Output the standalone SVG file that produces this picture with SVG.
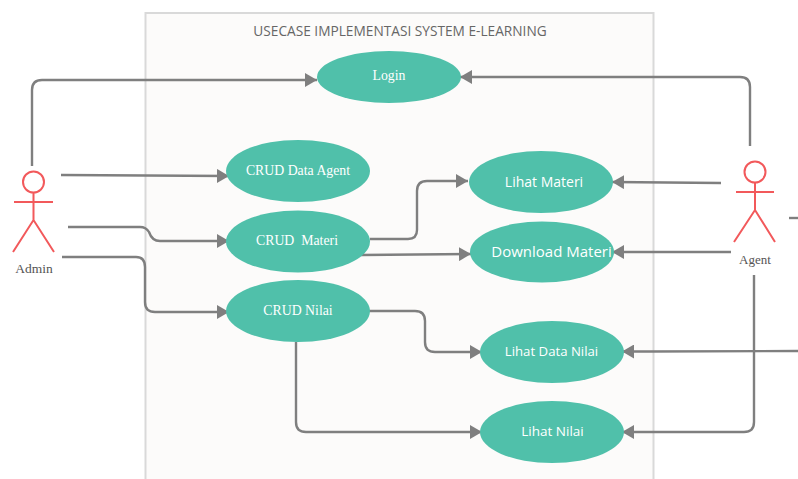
<svg xmlns="http://www.w3.org/2000/svg" width="798" height="479" viewBox="0 0 798 479">
<style>
.uc{fill:#50c0aa}
.a{fill:none;stroke:#f2595b;stroke-width:2}
.c{fill:none;stroke:#7f7f7f;stroke-width:2.400}
.s{font-family:"Liberation Serif",serif;font-size:13.800px;fill:#fff;text-anchor:middle}
.o{font-family:"Open Sans",sans-serif;font-size:14px;fill:#fff;text-anchor:middle}
.l{font-family:"Liberation Serif",serif;font-size:13.500px;fill:#555;text-anchor:middle}
</style>
<defs>
<marker id="arr" markerUnits="userSpaceOnUse" markerWidth="13" markerHeight="14" refX="12" refY="7" orient="auto"><path d="M0 0L12 7L0 14Z" fill="#7f7f7f"/></marker>
</defs>
<rect width="798" height="479" fill="#fff"/>
<g id="system">
<rect x="145.500" y="13" width="508" height="480" fill="#fcfbfa" stroke="#d9d9d9" stroke-width="2"/>
<text x="400" y="36" font-family="Open Sans, sans-serif" font-size="13.700" fill="#666" text-anchor="middle">USECASE IMPLEMENTASI SYSTEM E-LEARNING</text>
</g>
<g id="connectors" class="c">
<path marker-end="url(#arr)" d="M32 166V90Q32 80 42 80H317"/>
<path marker-end="url(#arr)" d="M61 175L229 176"/>
<path marker-end="url(#arr)" d="M68 227H140Q146 227 149 232Q152 241 160 241H229"/>
<path marker-end="url(#arr)" d="M62 257H136Q145 257 145 267V302Q145 312 155 312H229"/>
<path marker-end="url(#arr)" d="M370 239H408Q417 239 417 230V191Q417 181 427 181H468"/>
<path marker-end="url(#arr)" d="M361 255L471 254"/>
<path marker-end="url(#arr)" d="M368 311H415Q425 311 425 321V342Q425 352 435 352H482"/>
<path marker-end="url(#arr)" d="M296 342V422Q296 432 306 432H482"/>
<path marker-end="url(#arr)" d="M750 146V87Q750 77 740 77H460"/>
<path marker-end="url(#arr)" d="M721 183L612 182"/>
<path marker-end="url(#arr)" d="M731 252H612"/>
<path marker-end="url(#arr)" d="M798 351L650 351.500H622"/>
<path marker-end="url(#arr)" d="M754 275V422Q754 432 744 432H622"/>
<path d="M789 218H798"/>
</g>
<g id="login"><ellipse class="uc" cx="389" cy="77" rx="72" ry="26"/><text class="s" x="389" y="80">Login</text></g>
<g id="crud-agent"><ellipse class="uc" cx="298" cy="171" rx="72" ry="31"/><text class="s" x="298" y="175">CRUD Data Agent</text></g>
<g id="crud-materi"><ellipse class="uc" cx="298" cy="241.500" rx="72" ry="31"/><text class="s" x="297" y="245" xml:space="preserve">CRUD  Materi</text></g>
<g id="crud-nilai"><ellipse class="uc" cx="298" cy="311" rx="72" ry="31"/><text class="s" x="298" y="315">CRUD Nilai</text></g>
<g id="lihat-materi"><ellipse class="uc" cx="541" cy="182" rx="72" ry="31"/><text class="o" x="544" y="187">Lihat Materi</text></g>
<g id="download-materi"><ellipse class="uc" cx="542" cy="252" rx="72" ry="30.500"/><text class="o" x="551.500" y="257" font-size="15" style="font-size:15px">Download Materi</text></g>
<g id="lihat-data-nilai"><ellipse class="uc" cx="552" cy="352" rx="72" ry="31"/><text class="o" x="551.500" y="356" style="font-size:13.200px">Lihat Data Nilai</text></g>
<g id="lihat-nilai"><ellipse class="uc" cx="552" cy="432" rx="72" ry="31"/><text class="o" x="552.500" y="436" style="font-size:13.500px">Lihat Nilai</text></g>
<g id="admin"><circle class="a" cx="33.500" cy="182" r="10.500"/><path class="a" d="M33.500 192.500V220M14 202H53M13 252L33.500 220L54 252"/><text class="l" x="34" y="273">Admin</text></g>
<g id="agent"><circle class="a" cx="755" cy="172" r="10.500"/><path class="a" d="M755 182.500V210M736 192H774M734 242L755 210L775 242"/><text class="l" x="755" y="264" style="font-size:13px">Agent</text></g>
</svg>
